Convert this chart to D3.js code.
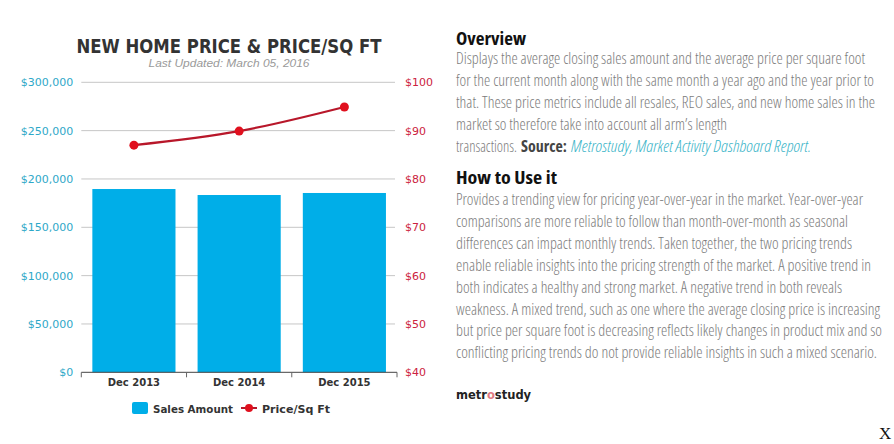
<!DOCTYPE html>
<html>
<head>
<meta charset="utf-8">
<script src="https://cdn.jsdelivr.net/npm/d3@7"></script>
<style>
  body { margin: 0; background: #fff; }
  svg { display: block; }
</style>
</head>
<body>
<div id="chart"></div>
<script>
// data
var categories = [ 'Dec 2013', 'Dec 2014', 'Dec 2015' ];
var salesAmount = [ 189600, 183400, 185500 ];
var pricePerSqFt = [ 87.0, 89.9, 94.9 ];
var leftTicks = [ 0, 50000, 100000, 150000, 200000, 250000, 300000 ];
var rightTicks = [ 40, 50, 60, 70, 80, 90, 100 ];

var titleText = 'NEW HOME PRICE & PRICE/SQ FT';
var subtitleText = 'Last Updated: March 05, 2016';
var legendLabels = [ 'Sales Amount', 'Price/Sq Ft' ];

var overviewLines = [
  'Displays the average closing sales amount and the average price per square foot',
  'for the current month along with the same month a year ago and the year prior to',
  'that. These price metrics include all resales, REO sales, and new home sales in the',
  'market so therefore take into account all arm\u2019s length'
];
var overviewLast = [ 'transactions.', 'Source:', 'Metrostudy, Market Activity Dashboard Report.' ];
var howLines = [
  'Provides a trending view for pricing year-over-year in the market. Year-over-year',
  'comparisons are more reliable to follow than month-over-month as seasonal',
  'differences can impact monthly trends. Taken together, the two pricing trends',
  'enable reliable insights into the pricing strength of the market. A positive trend in',
  'both indicates a healthy and strong market. A negative trend in both reveals',
  'weakness. A mixed trend, such as one where the average closing price is increasing',
  'but price per square foot is decreasing reflects likely changes in product mix and so',
  'conflicting pricing trends do not provide reliable insights in such a mixed scenario.'
];

// layout
var W = 894, H = 444;
var plot = { left: 81.3, right: 397, top: 82.3, bottom: 372.3 };
var barColor = '#00aee8';
var leftColor = '#2ea8c8';
var rightColor = '#cc2240';
var textDark = '#333';
var bodyColor = '#7c7c7c';

var svg = d3.select('#chart').append('svg')
  .attr('width', W)
  .attr('height', H);

var x = d3.scaleBand()
  .domain(categories)
  .range([plot.left, plot.right])
  .paddingInner(0.21)
  .paddingOuter(0.105);

var yLeft = d3.scaleLinear()
  .domain([0, 300000])
  .range([plot.bottom, plot.top]);

var yRight = d3.scaleLinear()
  .domain([40, 100])
  .range([plot.bottom, plot.top]);

// title
svg.append('text')
  .attr('x', 229).attr('y', 53)
  .attr('text-anchor', 'middle')
  .attr('font-family', '"Liberation Sans Narrow", "DejaVu Sans Condensed", sans-serif')
  .attr('font-weight', 'bold')
  .attr('font-size', 19)
  .attr('fill', textDark)
  .attr('textLength', 305)
  .attr('lengthAdjust', 'spacingAndGlyphs')
  .text(titleText);

svg.append('text')
  .attr('x', 229).attr('y', 67)
  .attr('text-anchor', 'middle')
  .attr('font-family', '"Liberation Sans", Arial, sans-serif')
  .attr('font-style', 'italic')
  .attr('font-size', 11)
  .attr('fill', '#9a9a9a')
  .attr('textLength', 161)
  .attr('lengthAdjust', 'spacingAndGlyphs')
  .text(subtitleText);

// gridlines
svg.append('g')
  .selectAll('line')
  .data(leftTicks.filter(function(d) { return d > 0; }))
  .enter()
  .append('line')
  .attr('x1', plot.left).attr('x2', plot.right - 2)
  .attr('y1', function(d) { return yLeft(d); })
  .attr('y2', function(d) { return yLeft(d); })
  .attr('stroke', '#c6c6c6')
  .attr('stroke-width', 1);

// left axis labels
var leftAxis = d3.axisLeft(yLeft)
  .tickValues(leftTicks)
  .tickSize(0)
  .tickPadding(8)
  .tickFormat(function(d) { return '$' + d3.format(',')(d); });

var gl = svg.append('g')
  .attr('transform', 'translate(' + plot.left + ',0)')
  .call(leftAxis);
gl.select('.domain').remove();
gl.selectAll('text')
  .attr('font-family', '"DejaVu Sans", sans-serif')
  .attr('font-size', 11)
  .attr('fill', leftColor);

// right axis labels
var rightAxis = d3.axisRight(yRight)
  .tickValues(rightTicks)
  .tickSize(0)
  .tickPadding(8)
  .tickFormat(function(d) { return '$' + d; });

var gr = svg.append('g')
  .attr('transform', 'translate(' + plot.right + ',0)')
  .call(rightAxis);
gr.select('.domain').remove();
gr.selectAll('text')
  .attr('font-family', '"DejaVu Sans", sans-serif')
  .attr('font-size', 11)
  .attr('fill', rightColor);

// bars
svg.append('g')
  .selectAll('rect')
  .data(salesAmount)
  .enter()
  .append('rect')
  .attr('x', function(d, i) { return x(categories[i]); })
  .attr('width', x.bandwidth())
  .attr('y', function(d) { return yLeft(d); })
  .attr('height', function(d) { return plot.bottom - yLeft(d); })
  .attr('fill', barColor);

// bottom axis
var step = x.step();
var edges = d3.range(categories.length + 1).map(function(i) { return plot.left + i * step; });

svg.append('line')
  .attr('x1', plot.left).attr('x2', plot.right)
  .attr('y1', plot.bottom).attr('y2', plot.bottom)
  .attr('stroke', '#444').attr('stroke-width', 1);

svg.append('g')
  .selectAll('line')
  .data(edges)
  .enter()
  .append('line')
  .attr('x1', function(d) { return d; })
  .attr('x2', function(d) { return d; })
  .attr('y1', plot.bottom).attr('y2', plot.bottom + 5)
  .attr('stroke', '#666').attr('stroke-width', 1);

svg.append('g')
  .selectAll('text')
  .data(categories)
  .enter()
  .append('text')
  .attr('x', function(d) { return x(d) + x.bandwidth() / 2; })
  .attr('y', 386)
  .attr('text-anchor', 'middle')
  .attr('font-family', '"DejaVu Sans", sans-serif')
  .attr('font-weight', 'bold')
  .attr('font-size', 10)
  .attr('fill', textDark)
  .text(function(d) { return d; });

// price line
var line = d3.line()
  .x(function(d, i) { return x(categories[i]) + x.bandwidth() / 2; })
  .y(function(d) { return yRight(d); })
  .curve(d3.curveMonotoneX);

svg.append('path')
  .datum(pricePerSqFt)
  .attr('d', line)
  .attr('fill', 'none')
  .attr('stroke', '#b8172a')
  .attr('stroke-width', 2.2);

svg.append('g')
  .selectAll('circle')
  .data(pricePerSqFt)
  .enter()
  .append('circle')
  .attr('cx', function(d, i) { return x(categories[i]) + x.bandwidth() / 2; })
  .attr('cy', function(d) { return yRight(d); })
  .attr('r', 4.5)
  .attr('fill', '#e0101e');

// legend
var legend = svg.append('g');
legend.append('rect')
  .attr('x', 132).attr('y', 402)
  .attr('width', 16).attr('height', 12)
  .attr('rx', 2)
  .attr('fill', barColor);
legend.append('text')
  .attr('x', 153).attr('y', 413)
  .attr('font-family', '"DejaVu Sans", sans-serif')
  .attr('font-weight', 'bold')
  .attr('font-size', 11)
  .attr('fill', textDark)
  .attr('textLength', 80)
  .attr('lengthAdjust', 'spacingAndGlyphs')
  .text(legendLabels[0]);
legend.append('line')
  .attr('x1', 241).attr('x2', 257)
  .attr('y1', 408).attr('y2', 408)
  .attr('stroke', '#b8172a').attr('stroke-width', 2);
legend.append('circle')
  .attr('cx', 249).attr('cy', 408).attr('r', 4)
  .attr('fill', '#e0101e');
legend.append('text')
  .attr('x', 262).attr('y', 413)
  .attr('font-family', '"DejaVu Sans", sans-serif')
  .attr('font-weight', 'bold')
  .attr('font-size', 11)
  .attr('fill', textDark)
  .attr('textLength', 68)
  .attr('lengthAdjust', 'spacingAndGlyphs')
  .text(legendLabels[1]);

// right-hand text panel
var bodyFont = '"Open Sans", "Noto Sans", sans-serif';
var tx = 456;

function heading(label, y, w) {
  svg.append('text')
    .attr('x', tx).attr('y', y)
    .attr('font-family', bodyFont)
    .attr('font-weight', 'bold')
    .attr('font-stretch', 'condensed')
    .attr('font-size', 17)
    .attr('fill', '#111')
    .attr('textLength', w)
    .attr('lengthAdjust', 'spacingAndGlyphs')
    .text(label);
}

function bodyLine(label, xPos, y, w, opts) {
  opts = opts || {};
  svg.append('text')
    .attr('x', xPos).attr('y', y)
    .attr('font-family', bodyFont)
    .attr('font-weight', opts.weight || 300)
    .attr('font-stretch', 'condensed')
    .attr('font-style', opts.italic ? 'italic' : 'normal')
    .attr('font-size', 16)
    .attr('fill', opts.color || bodyColor)
    .attr('textLength', w)
    .attr('lengthAdjust', 'spacingAndGlyphs')
    .text(label);
}

heading('Overview', 45, 70);
var overviewEnds = [ 865, 874, 875, 727 ];
overviewLines.forEach(function(l, i) {
  bodyLine(l, tx, 64 + i * 22, overviewEnds[i] - tx);
});
bodyLine(overviewLast[0], tx, 152, 517 - tx);
bodyLine(overviewLast[1], 521, 152, 46, { weight: 'bold', color: '#444' });
bodyLine(overviewLast[2], 571, 152, 811 - 571, { italic: true, color: '#3ab4c8' });

heading('How to Use it', 184, 101);
var howEnds = [ 863, 848, 852, 871, 842, 880, 882, 877 ];
howLines.forEach(function(l, i) {
  bodyLine(l, tx, 205 + i * 21.9, howEnds[i] - tx);
});

// logo
var logo = svg.append('text')
  .attr('x', tx).attr('y', 399)
  .attr('font-family', '"DejaVu Sans", sans-serif')
  .attr('font-weight', 'bold')
  .attr('font-size', 11.5)
  .attr('fill', '#222');
logo.append('tspan').text('metr');
logo.append('tspan').attr('fill', '#e07a82').text('o');
logo.append('tspan').text('study');

svg.append('text')
  .attr('x', 879).attr('y', 439)
  .attr('font-family', '"Liberation Serif", serif')
  .attr('font-size', 17)
  .attr('fill', '#111')
  .text('X');
</script>
</body>
</html>
